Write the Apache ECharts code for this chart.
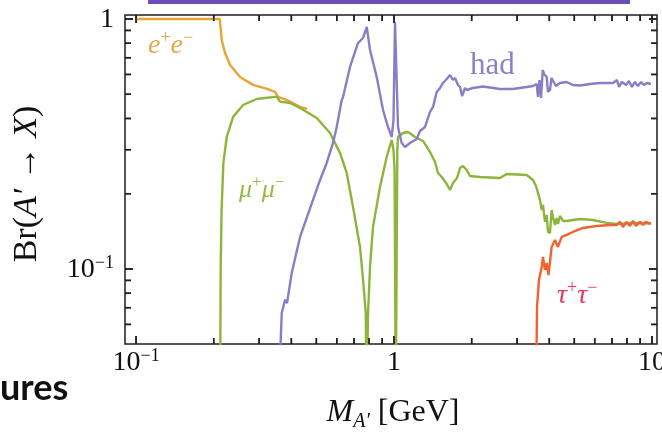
<!DOCTYPE html>
<html>
<head>
<meta charset="utf-8">
<script src="https://cdn.jsdelivr.net/npm/echarts@6/dist/echarts.min.js"></script>
<style>
  html, body { margin: 0; padding: 0; background: #ffffff; }
  #chart { width: 662px; height: 433px; }
</style>
</head>
<body>
<div id="chart"></div>
<script>
// Branching ratios of a dark photon A' into e+e-, mu+mu-, hadrons and tau+tau-
// versus its mass, on log-log axes.

// [mass in GeV, branching ratio]
const eeData = [
  [0.1, 1.0], [0.211, 1.0], [0.2125, 0.93], [0.215, 0.82], [0.2213, 0.731],
  [0.2314, 0.655], [0.253, 0.586], [0.2841, 0.545], [0.3219, 0.525], [0.3458, 0.511],
  [0.3551, 0.488], [0.3848, 0.474], [0.4322, 0.445], [0.4601, 0.437]
];

const mumuData = [
  [0.2118, 0.03], [0.2128, 0.1], [0.2145, 0.17], [0.218, 0.2655], [0.2247, 0.3373],
  [0.2377, 0.4055], [0.2599, 0.4529], [0.2936, 0.4786], [0.3509, 0.4889], [0.3614, 0.467],
  [0.3953, 0.4613], [0.4322, 0.4406], [0.5017, 0.4018], [0.5648, 0.3499], [0.6176, 0.2911],
  [0.6556, 0.2421], [0.6937, 0.177], [0.7383, 0.1225], [0.7587, 0.0904], [0.7772, 0.0667],
  [0.782, 0.03], [0.7933, 0.0667], [0.8072, 0.1019], [0.829, 0.1472], [0.8823, 0.2128],
  [0.9369, 0.2805], [0.9797, 0.3281], [0.9954, 0.299], [1.005, 0.25], [1.016, 0.03],
  [1.022, 0.03], [1.03, 0.3], [1.0363, 0.3373], [1.0836, 0.3499], [1.1332, 0.3532],
  [1.2059, 0.3373], [1.2953, 0.3251], [1.379, 0.2938], [1.442, 0.2679], [1.481, 0.2421],
  [1.531, 0.2333], [1.601, 0.2188], [1.649, 0.207], [1.693, 0.2208], [1.755, 0.2312],
  [1.803, 0.2535], [1.851, 0.2582], [1.913, 0.2489], [1.97, 0.2355], [2.154, 0.2333],
  [2.576, 0.2312], [2.734, 0.2399], [3.268, 0.2377], [3.457, 0.227], [3.551, 0.2148],
  [3.615, 0.2014], [3.681, 0.1888], [3.737, 0.1722], [3.78, 0.1803], [3.848, 0.1542],
  [3.907, 0.1644], [3.952, 0.1406], [4.024, 0.1393], [4.085, 0.1722], [4.133, 0.1614],
  [4.207, 0.15], [4.272, 0.16], [4.322, 0.1514], [4.4, 0.163], [4.519, 0.1556],
  [4.671, 0.1556], [4.941, 0.157], [5.259, 0.1585], [5.906, 0.157], [6.675, 0.1528],
  [7.298, 0.1514], [8.44, 0.1528], [9.91, 0.1521]
];

const hadData = [
  [0.3565, 0.03], [0.3671, 0.0667], [0.378, 0.0752], [0.3848, 0.0731], [0.4013, 0.0964],
  [0.4322, 0.1343], [0.4853, 0.1888], [0.5167, 0.227], [0.5484, 0.2655], [0.5801, 0.3192],
  [0.5996, 0.3698], [0.627, 0.4742], [0.6343, 0.4875], [0.6752, 0.6427], [0.7252, 0.8017],
  [0.7587, 0.8395], [0.7772, 0.9036], [0.7841, 0.929], [0.8072, 0.7516], [0.857, 0.5861],
  [0.9066, 0.4325], [0.9478, 0.3698], [0.9797, 0.3373], [0.9954, 0.3945], [1.009, 0.9727],
  [1.0226, 0.9727], [1.0363, 0.3698], [1.071, 0.3192], [1.103, 0.3076], [1.153, 0.3192],
  [1.225, 0.3311], [1.261, 0.3565], [1.319, 0.3698], [1.379, 0.4246], [1.417, 0.4446],
  [1.464, 0.5105], [1.508, 0.5297], [1.549, 0.5546], [1.601, 0.5754], [1.649, 0.597],
  [1.693, 0.5702], [1.724, 0.5808], [1.771, 0.5445], [1.803, 0.5346], [1.835, 0.492],
  [1.86, 0.4875], [1.885, 0.5297], [1.919, 0.52], [2.024, 0.5297], [2.213, 0.537],
  [2.576, 0.5248], [2.892, 0.5248], [3.268, 0.5346], [3.457, 0.5395], [3.574, 0.5495],
  [3.615, 0.4875], [3.664, 0.5702], [3.715, 0.4831], [3.772, 0.6252], [3.815, 0.6026],
  [3.907, 0.5861], [3.952, 0.5105], [4.024, 0.52], [4.078, 0.5808], [4.133, 0.5702],
  [4.246, 0.5395], [4.4, 0.5546], [4.671, 0.5598], [4.941, 0.5445], [5.259, 0.542],
  [5.75, 0.5495], [6.286, 0.5546], [7.06, 0.5546], [7.316, 0.5702], [7.449, 0.5346],
  [7.65, 0.5598], [7.93, 0.5445], [8.14, 0.5649], [8.36, 0.5346], [8.59, 0.5598],
  [8.82, 0.5395], [9.07, 0.5598], [9.31, 0.5445], [9.56, 0.5546], [9.91, 0.5495]
];

const tautauData = [
  [3.554, 0.03], [3.584, 0.0705], [3.648, 0.0904], [3.737, 0.1019], [3.78, 0.1117],
  [3.848, 0.0991], [3.907, 0.1057], [3.97, 0.0946], [4.024, 0.0929], [4.085, 0.1225],
  [4.207, 0.1306], [4.322, 0.1225], [4.467, 0.1343], [4.671, 0.1368], [4.941, 0.1406],
  [5.402, 0.1459], [6.106, 0.1486], [6.875, 0.15], [7.298, 0.15], [7.516, 0.1542],
  [7.72, 0.1472], [7.98, 0.1542], [8.216, 0.1486], [8.44, 0.1556], [8.67, 0.1486],
  [8.985, 0.1542], [9.23, 0.15], [9.478, 0.1542], [9.91, 0.1514]
];

// Axis ticks and their labels
const xMajorTicks = [0.1, 1, 10];
const xTickLabels = ['10{s|−1}', '1', '10'];
const xMinorTicks = [0.2, 0.3, 0.4, 0.5, 0.6, 0.7, 0.8, 0.9, 2, 3, 4, 5, 6, 7, 8, 9];
const yMajorTicks = [0.1, 1];
const yTickLabels = ['10{s|−1}', '1'];
const yMinorTicks = [0.06, 0.07, 0.08, 0.09, 0.2, 0.3, 0.4, 0.5, 0.6, 0.7, 0.8, 0.9];

const X_MIN = 0.0906, X_MAX = 10.46;
const Y_MIN = 0.0501, Y_MAX = 1.0375;

const SERIF = '"Liberation Serif", "DejaVu Serif", serif';
const FRAME = '#1e1e1e';
const C_EE = '#e8a435', C_MU = '#8db53b', C_HAD = '#8a7dc6', C_TAU = '#ee6330';
const TICK_W = 1.5, MAJOR_LEN = 8, MINOR_LEN = 6;

function curve(name, data, color) {
  return {
    name, type: 'line', data,
    showSymbol: false, symbol: 'none',
    clip: true, silent: true,
    lineStyle: { color, width: 2.4 }
  };
}

// Inward frame ticks as small bar symbols sitting on the frame edges
function tickMarks(points, size, offset) {
  return {
    type: 'scatter', data: points,
    symbol: 'rect', symbolSize: size, symbolOffset: offset,
    itemStyle: { color: FRAME, opacity: 1 },
    clip: false, silent: true, z: 6
  };
}

function tickSeriesFor(values, len, isX) {
  if (isX) {
    return [
      tickMarks(values.map(v => [v, Y_MIN]), [TICK_W, len], [0, -len / 2]),
      tickMarks(values.map(v => [v, Y_MAX]), [TICK_W, len], [0, len / 2])
    ];
  }
  return [
    tickMarks(values.map(v => [X_MIN, v]), [len, TICK_W], [len / 2, 0]),
    tickMarks(values.map(v => [X_MAX, v]), [len, TICK_W], [-len / 2, 0])
  ];
}

function mathRich(size, color, supSize) {
  return {
    i: { fontSize: size, fontFamily: SERIF, fontStyle: 'italic', fill: color, lineHeight: size + 6 },
    r: { fontSize: size, fontFamily: SERIF, fill: color, lineHeight: size + 6 },
    s: { fontSize: supSize, fontFamily: SERIF, fill: color, verticalAlign: 'top', lineHeight: supSize },
    b: { fontSize: supSize, fontFamily: SERIF, fontStyle: 'italic', fill: color, verticalAlign: 'bottom', lineHeight: supSize }
  };
}

function mathText(x, y, text, size, color, supSize, align, extra) {
  return Object.assign({
    type: 'text', x, y,
    style: {
      text, align: align || 'left', verticalAlign: 'middle',
      fontSize: size, fontFamily: SERIF, fill: color, lineHeight: size + 6,
      rich: mathRich(size, color, supSize)
    }
  }, extra || {});
}

const chart = echarts.init(document.getElementById('chart'), null, { renderer: 'canvas' });

chart.setOption({
  backgroundColor: '#ffffff',
  animation: false,
  grid: {
    left: 125, right: 5, top: 15, bottom: 89,
    show: true, borderColor: FRAME, borderWidth: 1.5
  },
  xAxis: {
    type: 'log', logBase: 10, min: X_MIN, max: X_MAX,
    axisLine: { show: false }, axisTick: { show: false },
    axisLabel: { show: false }, splitLine: { show: false }
  },
  yAxis: {
    type: 'log', logBase: 10, min: Y_MIN, max: Y_MAX,
    axisLine: { show: false }, axisTick: { show: false },
    axisLabel: { show: false }, splitLine: { show: false }
  },
  series: [
    curve('e+e-', eeData, C_EE),
    curve('mu+mu-', mumuData, C_MU),
    curve('had', hadData, C_HAD),
    curve('tau+tau-', tautauData, C_TAU)
  ].concat(
    tickSeriesFor(xMajorTicks, MAJOR_LEN, true),
    tickSeriesFor(xMinorTicks, MINOR_LEN, true),
    tickSeriesFor(yMajorTicks, MAJOR_LEN, false),
    tickSeriesFor(yMinorTicks, MINOR_LEN, false)
  )
});

// Tick strokes and labels placed through the axis scales
const toPx = (x, y) => chart.convertToPixel({ gridIndex: 0 }, [x, y]);

function tick(x1, y1, x2, y2) {
  return { type: 'line', shape: { x1, y1, x2, y2 }, style: { stroke: FRAME, lineWidth: TICK_W } };
}

function tickText(x, y, text, align) {
  return {
    type: 'text', x, y,
    style: {
      text, align, verticalAlign: 'middle',
      fontSize: 28, fontFamily: SERIF, fill: '#111', lineHeight: 32,
      rich: { s: { fontSize: 18, fontFamily: SERIF, fill: '#111', verticalAlign: 'top', lineHeight: 18 } }
    }
  };
}

const tickLines = [];
const tickLabels = [];
function addXTicks(values, len, labels) {
  values.forEach((v, i) => {
    const b = toPx(v, Y_MIN), t = toPx(v, Y_MAX);
    tickLines.push(tick(b[0], b[1], b[0], b[1] - len));
    tickLines.push(tick(t[0], t[1], t[0], t[1] + len));
    if (labels) tickLabels.push(tickText(b[0], b[1] + 19, labels[i], 'center'));
  });
}
function addYTicks(values, len, labels) {
  values.forEach((v, i) => {
    const l = toPx(X_MIN, v), r = toPx(X_MAX, v);
    tickLines.push(tick(l[0], l[1], l[0] + len, l[1]));
    tickLines.push(tick(r[0], r[1], r[0] - len, r[1]));
    if (labels) tickLabels.push(tickText(l[0] - 11, l[1] + 1, labels[i], 'right'));
  });
}
addXTicks(xMajorTicks, MAJOR_LEN, xTickLabels);
addXTicks(xMinorTicks, MINOR_LEN, null);
addYTicks(yMajorTicks, MAJOR_LEN, yTickLabels);
addYTicks(yMinorTicks, MINOR_LEN, null);

const textEls = [
  // curve annotations
  mathText(148, 46, '{i|e}{s|+}{i|e}{s|−}', 28, '#e3a750', 18),
  mathText(470, 66, '{r|had}', 31, '#8c80c8', 18),
  mathText(239, 190, '{i|μ}{s|+}{i|μ}{s|−}', 26, '#98b944', 17),
  mathText(557, 296, '{i|τ}{s|+}{i|τ}{s|−}', 28, '#e33a60', 18),
  // axis titles
  mathText(393, 413, '{i|M}{b|A′}{r| [GeV]}', 32, '#111', 20, 'center'),
  mathText(27, 184, '{r|Br(}{i|A′}{r| → }{i|X}{r|)}', 34, '#111', 22, 'center', { rotation: Math.PI / 2 }),
  // fragment of slide text at the lower left
  {
    type: 'text', x: 0, y: 388,
    style: { text: 'ures', fontSize: 36, fontWeight: 'bold', fontFamily: 'Lato, "Open Sans", sans-serif', fill: '#111', align: 'left', verticalAlign: 'middle' }
  }
];

chart.setOption({
  graphic: tickLines.concat([
    // underline of the slide heading above the figure
    { type: 'rect', shape: { x: 148, y: 0, width: 482, height: 4 }, style: { fill: '#6b4eb6' } }
  ], textEls, tickLabels)
});
</script>
</body>
</html>
